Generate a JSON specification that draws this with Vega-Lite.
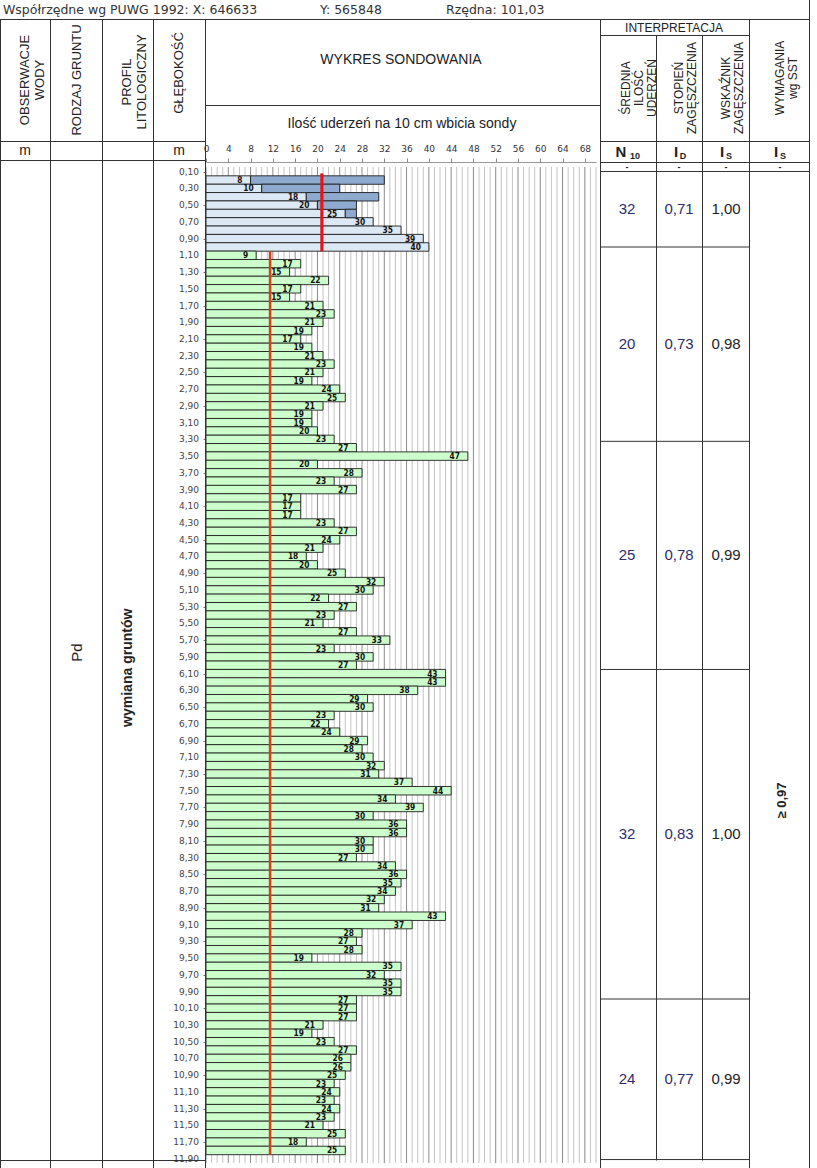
{
  "$schema": "https://vega.github.io/schema/vega-lite/v6.json",
  "width": 817,
  "height": 1168,
  "autosize": "none",
  "padding": 0,
  "background": "white",
  "config": {
    "view": {"stroke": null},
    "text": {"font": "Liberation Sans"},
    "axis": {"labelOverlap": false},
    "locale": {"number": {"decimal": ",", "thousands": " ", "grouping": [3], "currency": ["", " zł"]}}
  },
  "resolve": {"scale": {"x": "independent", "y": "independent"}},
  "datasets": {
    "grid": [{"g":0},{"g":1},{"g":2},{"g":3},{"g":4},{"g":5},{"g":6},{"g":7},{"g":8},{"g":9},{"g":10},{"g":11},{"g":12},{"g":13},{"g":14},{"g":15},{"g":16},{"g":17},{"g":18},{"g":19},{"g":20},{"g":21},{"g":22},{"g":23},{"g":24},{"g":25},{"g":26},{"g":27},{"g":28},{"g":29},{"g":30},{"g":31},{"g":32},{"g":33},{"g":34},{"g":35},{"g":36},{"g":37},{"g":38},{"g":39},{"g":40},{"g":41},{"g":42},{"g":43},{"g":44},{"g":45},{"g":46},{"g":47},{"g":48},{"g":49},{"g":50},{"g":51},{"g":52},{"g":53},{"g":54},{"g":55},{"g":56},{"g":57},{"g":58},{"g":59},{"g":60},{"g":61},{"g":62},{"g":63},{"g":64},{"g":65},{"g":66},{"g":67},{"g":68},{"g":69},{"g":70}],
    "depths": [{"d":0.1},{"d":0.3},{"d":0.5},{"d":0.7},{"d":0.9},{"d":1.1},{"d":1.3},{"d":1.5},{"d":1.7},{"d":1.9},{"d":2.1},{"d":2.3},{"d":2.5},{"d":2.7},{"d":2.9},{"d":3.1},{"d":3.3},{"d":3.5},{"d":3.7},{"d":3.9},{"d":4.1},{"d":4.3},{"d":4.5},{"d":4.7},{"d":4.9},{"d":5.1},{"d":5.3},{"d":5.5},{"d":5.7},{"d":5.9},{"d":6.1},{"d":6.3},{"d":6.5},{"d":6.7},{"d":6.9},{"d":7.1},{"d":7.3},{"d":7.5},{"d":7.7},{"d":7.9},{"d":8.1},{"d":8.3},{"d":8.5},{"d":8.7},{"d":8.9},{"d":9.1},{"d":9.3},{"d":9.5},{"d":9.7},{"d":9.9},{"d":10.1},{"d":10.3},{"d":10.5},{"d":10.7},{"d":10.9},{"d":11.1},{"d":11.3},{"d":11.5},{"d":11.7},{"d":11.9}],
    "bars": [
      {"d":0.2,"n":8,"c":32,"zone":"upper"},{"d":0.3,"n":10,"c":24,"zone":"upper"},{"d":0.4,"n":18,"c":31,"zone":"upper"},{"d":0.5,"n":20,"c":27,"zone":"upper"},{"d":0.6,"n":25,"c":27,"zone":"upper"},{"d":0.7,"n":30,"zone":"upper"},{"d":0.8,"n":35,"zone":"upper"},{"d":0.9,"n":39,"zone":"upper"},{"d":1.0,"n":40,"zone":"upper"},
      {"d":1.1,"n":9,"zone":"lower"},{"d":1.2,"n":17,"zone":"lower"},{"d":1.3,"n":15,"zone":"lower"},{"d":1.4,"n":22,"zone":"lower"},{"d":1.5,"n":17,"zone":"lower"},{"d":1.6,"n":15,"zone":"lower"},{"d":1.7,"n":21,"zone":"lower"},{"d":1.8,"n":23,"zone":"lower"},{"d":1.9,"n":21,"zone":"lower"},{"d":2.0,"n":19,"zone":"lower"},
      {"d":2.1,"n":17,"zone":"lower"},{"d":2.2,"n":19,"zone":"lower"},{"d":2.3,"n":21,"zone":"lower"},{"d":2.4,"n":23,"zone":"lower"},{"d":2.5,"n":21,"zone":"lower"},{"d":2.6,"n":19,"zone":"lower"},{"d":2.7,"n":24,"zone":"lower"},{"d":2.8,"n":25,"zone":"lower"},{"d":2.9,"n":21,"zone":"lower"},{"d":3.0,"n":19,"zone":"lower"},
      {"d":3.1,"n":19,"zone":"lower"},{"d":3.2,"n":20,"zone":"lower"},{"d":3.3,"n":23,"zone":"lower"},{"d":3.4,"n":27,"zone":"lower"},{"d":3.5,"n":47,"zone":"lower"},{"d":3.6,"n":20,"zone":"lower"},{"d":3.7,"n":28,"zone":"lower"},{"d":3.8,"n":23,"zone":"lower"},{"d":3.9,"n":27,"zone":"lower"},{"d":4.0,"n":17,"zone":"lower"},
      {"d":4.1,"n":17,"zone":"lower"},{"d":4.2,"n":17,"zone":"lower"},{"d":4.3,"n":23,"zone":"lower"},{"d":4.4,"n":27,"zone":"lower"},{"d":4.5,"n":24,"zone":"lower"},{"d":4.6,"n":21,"zone":"lower"},{"d":4.7,"n":18,"zone":"lower"},{"d":4.8,"n":20,"zone":"lower"},{"d":4.9,"n":25,"zone":"lower"},{"d":5.0,"n":32,"zone":"lower"},
      {"d":5.1,"n":30,"zone":"lower"},{"d":5.2,"n":22,"zone":"lower"},{"d":5.3,"n":27,"zone":"lower"},{"d":5.4,"n":23,"zone":"lower"},{"d":5.5,"n":21,"zone":"lower"},{"d":5.6,"n":27,"zone":"lower"},{"d":5.7,"n":33,"zone":"lower"},{"d":5.8,"n":23,"zone":"lower"},{"d":5.9,"n":30,"zone":"lower"},{"d":6.0,"n":27,"zone":"lower"},
      {"d":6.1,"n":43,"zone":"lower"},{"d":6.2,"n":43,"zone":"lower"},{"d":6.3,"n":38,"zone":"lower"},{"d":6.4,"n":29,"zone":"lower"},{"d":6.5,"n":30,"zone":"lower"},{"d":6.6,"n":23,"zone":"lower"},{"d":6.7,"n":22,"zone":"lower"},{"d":6.8,"n":24,"zone":"lower"},{"d":6.9,"n":29,"zone":"lower"},{"d":7.0,"n":28,"zone":"lower"},
      {"d":7.1,"n":30,"zone":"lower"},{"d":7.2,"n":32,"zone":"lower"},{"d":7.3,"n":31,"zone":"lower"},{"d":7.4,"n":37,"zone":"lower"},{"d":7.5,"n":44,"zone":"lower"},{"d":7.6,"n":34,"zone":"lower"},{"d":7.7,"n":39,"zone":"lower"},{"d":7.8,"n":30,"zone":"lower"},{"d":7.9,"n":36,"zone":"lower"},{"d":8.0,"n":36,"zone":"lower"},
      {"d":8.1,"n":30,"zone":"lower"},{"d":8.2,"n":30,"zone":"lower"},{"d":8.3,"n":27,"zone":"lower"},{"d":8.4,"n":34,"zone":"lower"},{"d":8.5,"n":36,"zone":"lower"},{"d":8.6,"n":35,"zone":"lower"},{"d":8.7,"n":34,"zone":"lower"},{"d":8.8,"n":32,"zone":"lower"},{"d":8.9,"n":31,"zone":"lower"},{"d":9.0,"n":43,"zone":"lower"},
      {"d":9.1,"n":37,"zone":"lower"},{"d":9.2,"n":28,"zone":"lower"},{"d":9.3,"n":27,"zone":"lower"},{"d":9.4,"n":28,"zone":"lower"},{"d":9.5,"n":19,"zone":"lower"},{"d":9.6,"n":35,"zone":"lower"},{"d":9.7,"n":32,"zone":"lower"},{"d":9.8,"n":35,"zone":"lower"},{"d":9.9,"n":35,"zone":"lower"},{"d":10.0,"n":27,"zone":"lower"},
      {"d":10.1,"n":27,"zone":"lower"},{"d":10.2,"n":27,"zone":"lower"},{"d":10.3,"n":21,"zone":"lower"},{"d":10.4,"n":19,"zone":"lower"},{"d":10.5,"n":23,"zone":"lower"},{"d":10.6,"n":27,"zone":"lower"},{"d":10.7,"n":26,"zone":"lower"},{"d":10.8,"n":26,"zone":"lower"},{"d":10.9,"n":25,"zone":"lower"},{"d":11.0,"n":23,"zone":"lower"},
      {"d":11.1,"n":24,"zone":"lower"},{"d":11.2,"n":23,"zone":"lower"},{"d":11.3,"n":24,"zone":"lower"},{"d":11.4,"n":23,"zone":"lower"},{"d":11.5,"n":21,"zone":"lower"},{"d":11.6,"n":25,"zone":"lower"},{"d":11.7,"n":18,"zone":"lower"},{"d":11.8,"n":25,"zone":"lower"}
    ],
    "layers": [
      {"from":0.15,"to":1.05,"mid":0.6,"n10":"32","id":"0,71","is":"1,00"},
      {"from":1.05,"to":3.35,"mid":2.2,"n10":"20","id":"0,73","is":"0,98"},
      {"from":3.35,"to":6.05,"mid":4.7,"n10":"25","id":"0,78","is":"0,99"},
      {"from":6.05,"to":9.95,"mid":8.0,"n10":"32","id":"0,83","is":"1,00"},
      {"from":9.95,"to":11.85,"mid":10.9,"n10":"24","id":"0,77","is":"0,99"}
    ],
    "frame": [
      {"x1":0,"x2":809,"y1":19.5,"y2":19.5},
      {"x1":600,"x2":749,"y1":35.5,"y2":35.5},
      {"x1":205,"x2":600,"y1":105.5,"y2":105.5},
      {"x1":0,"x2":205,"y1":141.5,"y2":141.5},
      {"x1":600,"x2":809,"y1":141.5,"y2":141.5},
      {"x1":0,"x2":205,"y1":160.5,"y2":160.5},
      {"x1":600,"x2":809,"y1":162.5,"y2":162.5},
      {"x1":600,"x2":809,"y1":171.5,"y2":171.5},
      {"x1":0,"x2":205,"y1":1160.5,"y2":1160.5},
      {"x1":0.5,"x2":0.5,"y1":19.5,"y2":1168},
      {"x1":50.5,"x2":50.5,"y1":19.5,"y2":1168},
      {"x1":102.5,"x2":102.5,"y1":19.5,"y2":1168},
      {"x1":153.5,"x2":153.5,"y1":19.5,"y2":1168},
      {"x1":205.5,"x2":205.5,"y1":19.5,"y2":1168},
      {"x1":600.5,"x2":600.5,"y1":19.5,"y2":1168},
      {"x1":656.5,"x2":656.5,"y1":35.5,"y2":1160.5},
      {"x1":702.5,"x2":702.5,"y1":35.5,"y2":1160.5},
      {"x1":749.5,"x2":749.5,"y1":19.5,"y2":1168},
      {"x1":809.5,"x2":809.5,"y1":0,"y2":1168}
    ],
    "vheadsL": [
      {"t":"OBSERWACJE\nWODY","x":25,"y":80},
      {"t":"RODZAJ GRUNTU","x":77,"y":80},
      {"t":"PROFIL\nLITOLOGICZNY","x":127,"y":82},
      {"t":"GŁĘBOKOŚĆ","x":179,"y":73}
    ],
    "vheadsR": [
      {"t":"ŚREDNIA\nILOŚĆ\nUDERZEŃ","x":626,"y":88},
      {"t":"STOPIEŃ\nZAGĘSZCZENIA","x":679,"y":88},
      {"t":"WSKAŹNIK\nZAGĘSZCZENIA","x":726,"y":88},
      {"t":"WYMAGANIA\nwg   SST","x":780,"y":78}
    ]
  },
  "layer": [
    {
      "layer": [
        {
          "data": {"name": "grid"},
          "mark": {"type": "rule", "strokeWidth": 1},
          "encoding": {
            "x": {"field": "g", "type": "quantitative",
                  "scale": {"domain": [0, 70], "range": [206, 596], "nice": false, "zero": false},
                  "axis": {"orient": "top", "offset": -162, "values": [0,4,8,12,16,20,24,28,32,36,40,44,48,52,56,60,64,68],
                           "title": null, "grid": false, "labelFont": "DejaVu Sans", "labelFontSize": 9, "labelColor": "#333",
                           "tickSize": 4, "tickColor": "#888", "domainColor": "#999", "labelPadding": 5, "labelFlush": false, "labelOverlap": false}},
            "y": {"datum": 0.044, "type": "quantitative",
                  "scale": {"domain": [0.044, 11.95], "range": [162, 1168], "nice": false, "zero": false},
                  "axis": {"orient": "left", "offset": -206,
                           "values": [0.1,0.3,0.5,0.7,0.9,1.1,1.3,1.5,1.7,1.9,2.1,2.3,2.5,2.7,2.9,3.1,3.3,3.5,3.7,3.9,4.1,4.3,4.5,4.7,4.9,5.1,5.3,5.5,5.7,5.9,6.1,6.3,6.5,6.7,6.9,7.1,7.3,7.5,7.7,7.9,8.1,8.3,8.5,8.7,8.9,9.1,9.3,9.5,9.7,9.9,10.1,10.3,10.5,10.7,10.9,11.1,11.3,11.5,11.7,11.9],
                           "labels": false, "title": null, "grid": false, "domain": false,
                           "tickSize": 3, "tickColor": "#777"}},
            "y2": {"datum": 11.95},
            "color": {"condition": {"test": "datum.g % 4 === 0", "value": "#8a8a8a"}, "value": "#c4c4c4"}
          }
        },
        {
          "data": {"name": "depths"},
          "mark": {"type": "text", "font": "DejaVu Sans", "fontSize": 9, "align": "right", "baseline": "middle", "dx": -7, "color": "#444"},
          "encoding": {
            "x": {"datum": 0, "type": "quantitative"},
            "y": {"field": "d", "type": "quantitative"},
            "text": {"field": "d", "type": "quantitative", "format": ".2f"}
          }
        },
        {
          "data": {"name": "bars"},
          "mark": {"type": "bar", "orient": "horizontal", "size": 8.45, "stroke": "#1e1e1e", "strokeWidth": 0.9},
          "encoding": {
            "x": {"field": "n", "type": "quantitative"},
            "y": {"field": "d", "type": "quantitative"},
            "fill": {"field": "zone", "type": "nominal", "scale": {"domain": ["upper", "lower"], "range": ["#dde8f5", "#ccffcc"]}, "legend": null}
          }
        },
        {
          "data": {"name": "bars"},
          "transform": [{"filter": "isValid(datum.c)"}],
          "mark": {"type": "bar", "orient": "horizontal", "size": 8.45, "fill": "#8eaacf", "stroke": "#1e1e1e", "strokeWidth": 0.9},
          "encoding": {
            "x": {"field": "n", "type": "quantitative"},
            "x2": {"field": "c"},
            "y": {"field": "d", "type": "quantitative"}
          }
        },
        {
          "data": {"values": [{"v": 20.8, "from": 0.12, "to": 1.05}]},
          "mark": {"type": "rule", "color": "#e3161b", "strokeWidth": 3.2},
          "encoding": {
            "x": {"field": "v", "type": "quantitative"},
            "y": {"field": "from", "type": "quantitative"},
            "y2": {"field": "to"}
          }
        },
        {
          "data": {"values": [{"v": 11.5, "from": 1.05, "to": 11.85}]},
          "mark": {"type": "rule", "color": "#d8401c", "strokeWidth": 2.6},
          "encoding": {
            "x": {"field": "v", "type": "quantitative"},
            "y": {"field": "from", "type": "quantitative"},
            "y2": {"field": "to"}
          }
        },
        {
          "data": {"name": "bars"},
          "mark": {"type": "text", "font": "DejaVu Sans Condensed", "fontWeight": "bold", "fontSize": 8.3, "align": "right", "baseline": "middle", "dx": -8, "dy": 1, "color": "#111"},
          "encoding": {
            "x": {"field": "n", "type": "quantitative"},
            "y": {"field": "d", "type": "quantitative"},
            "text": {"field": "n", "type": "quantitative"}
          }
        }
      ]
    },
    {
      "layer": [
        {
          "data": {"values": [{"b": 1.05}, {"b": 3.35}, {"b": 6.05}, {"b": 9.95}, {"b": 11.85}]},
          "mark": {"type": "rule", "color": "#333", "strokeWidth": 1},
          "encoding": {
            "x": {"datum": 600, "type": "quantitative", "scale": {"domain": [0, 817], "range": [0, 817], "nice": false, "zero": false}, "axis": null},
            "x2": {"datum": 749},
            "y": {"field": "b", "type": "quantitative", "scale": {"domain": [0.044, 11.95], "range": [162, 1168], "nice": false, "zero": false}, "axis": null}
          }
        },
        {
          "data": {"name": "layers"},
          "mark": {"type": "text", "fontSize": 15, "color": "#2d2d6e", "align": "center", "baseline": "middle"},
          "encoding": {"x": {"datum": 627, "type": "quantitative"}, "y": {"field": "mid", "type": "quantitative"}, "text": {"field": "n10"}}
        },
        {
          "data": {"name": "layers"},
          "mark": {"type": "text", "fontSize": 15, "color": "#2d2d6e", "align": "center", "baseline": "middle"},
          "encoding": {"x": {"datum": 679, "type": "quantitative"}, "y": {"field": "mid", "type": "quantitative"}, "text": {"field": "id"}}
        },
        {
          "data": {"name": "layers"},
          "mark": {"type": "text", "fontSize": 15, "color": "#222", "align": "center", "baseline": "middle"},
          "encoding": {"x": {"datum": 726, "type": "quantitative"}, "y": {"field": "mid", "type": "quantitative"}, "text": {"field": "is"}}
        },
        {
          "data": {"values": [{"t": "Pd", "d": 5.85}]},
          "mark": {"type": "text", "fontSize": 15, "angle": 270, "color": "#222", "align": "center", "baseline": "middle"},
          "encoding": {"x": {"datum": 77, "type": "quantitative"}, "y": {"field": "d", "type": "quantitative"}, "text": {"field": "t"}}
        },
        {
          "data": {"values": [{"t": "wymiana gruntów", "d": 6.03}]},
          "mark": {"type": "text", "fontSize": 14, "fontWeight": "bold", "angle": 270, "color": "#222", "align": "center", "baseline": "middle"},
          "encoding": {"x": {"datum": 128, "type": "quantitative"}, "y": {"field": "d", "type": "quantitative"}, "text": {"field": "t"}}
        },
        {
          "data": {"values": [{"t": "≥ 0,97", "d": 7.6}]},
          "mark": {"type": "text", "fontSize": 13, "fontWeight": "bold", "angle": 270, "color": "#222", "align": "center", "baseline": "middle"},
          "encoding": {"x": {"datum": 782, "type": "quantitative"}, "y": {"field": "d", "type": "quantitative"}, "text": {"field": "t"}}
        }
      ]
    },
    {
      "layer": [
        {
          "data": {"name": "frame"},
          "mark": {"type": "rule", "color": "#333", "strokeWidth": 1},
          "encoding": {
            "x": {"field": "x1", "type": "quantitative", "scale": {"domain": [0, 817], "range": [0, 817], "nice": false, "zero": false}, "axis": null},
            "x2": {"field": "x2"},
            "y": {"field": "y1", "type": "quantitative", "scale": {"domain": [0, 1168], "range": [0, 1168], "nice": false, "zero": false}, "axis": null},
            "y2": {"field": "y2"}
          }
        },
        {
          "data": {"name": "vheadsL"},
          "mark": {"type": "text", "fontSize": 13, "angle": 270, "align": "center", "baseline": "middle", "lineBreak": "\n", "lineHeight": 15, "color": "#222"},
          "encoding": {"x": {"field": "x", "type": "quantitative"}, "y": {"field": "y", "type": "quantitative"}, "text": {"field": "t"}}
        },
        {
          "data": {"name": "vheadsR"},
          "mark": {"type": "text", "fontSize": 12, "angle": 270, "align": "center", "baseline": "middle", "lineBreak": "\n", "lineHeight": 13, "color": "#222"},
          "encoding": {"x": {"field": "x", "type": "quantitative"}, "y": {"field": "y", "type": "quantitative"}, "text": {"field": "t"}}
        },
        {
          "data": {"values": [
            {"t": "WYKRES   SONDOWANIA", "x": 401, "y": 60},
            {"t": "Ilość   uderzeń   na   10 cm   wbicia   sondy", "x": 402, "y": 124}
          ]},
          "mark": {"type": "text", "fontSize": 14, "align": "center", "baseline": "middle", "color": "#222"},
          "encoding": {"x": {"field": "x", "type": "quantitative"}, "y": {"field": "y", "type": "quantitative"}, "text": {"field": "t"}}
        },
        {
          "data": {"values": [{"t": "INTERPRETACJA", "x": 674, "y": 28}]},
          "mark": {"type": "text", "fontSize": 12, "align": "center", "baseline": "middle", "color": "#222"},
          "encoding": {"x": {"field": "x", "type": "quantitative"}, "y": {"field": "y", "type": "quantitative"}, "text": {"field": "t"}}
        },
        {
          "data": {"values": [{"t": "m", "x": 25, "y": 151}, {"t": "m", "x": 179, "y": 151}]},
          "mark": {"type": "text", "fontSize": 14, "align": "center", "baseline": "middle", "color": "#222"},
          "encoding": {"x": {"field": "x", "type": "quantitative"}, "y": {"field": "y", "type": "quantitative"}, "text": {"field": "t"}}
        },
        {
          "data": {"values": [{"t": "N", "x": 621, "y": 152}, {"t": "I", "x": 676, "y": 152}, {"t": "I", "x": 722, "y": 152}, {"t": "I", "x": 776, "y": 152}]},
          "mark": {"type": "text", "fontSize": 15, "fontWeight": "bold", "align": "center", "baseline": "middle", "color": "#222"},
          "encoding": {"x": {"field": "x", "type": "quantitative"}, "y": {"field": "y", "type": "quantitative"}, "text": {"field": "t"}}
        },
        {
          "data": {"values": [{"t": "10", "x": 635, "y": 156}, {"t": "D", "x": 683, "y": 156}, {"t": "S", "x": 729, "y": 156}, {"t": "S", "x": 783, "y": 156}]},
          "mark": {"type": "text", "fontSize": 9, "fontWeight": "bold", "align": "center", "baseline": "middle", "color": "#222"},
          "encoding": {"x": {"field": "x", "type": "quantitative"}, "y": {"field": "y", "type": "quantitative"}, "text": {"field": "t"}}
        },
        {
          "data": {"values": [{"t": "-", "x": 627, "y": 167}, {"t": "-", "x": 679, "y": 167}, {"t": "-", "x": 726, "y": 167}, {"t": "-", "x": 780, "y": 167}]},
          "mark": {"type": "text", "fontSize": 9, "fontWeight": "bold", "align": "center", "baseline": "middle", "color": "#222"},
          "encoding": {"x": {"field": "x", "type": "quantitative"}, "y": {"field": "y", "type": "quantitative"}, "text": {"field": "t"}}
        },
        {
          "data": {"values": [
            {"t": "Współrzędne wg PUWG 1992: X: 646633", "x": 3, "y": 10},
            {"t": "Y: 565848", "x": 320, "y": 10},
            {"t": "Rzędna: 101,03", "x": 446, "y": 10}
          ]},
          "mark": {"type": "text", "font": "DejaVu Sans", "fontSize": 12.5, "align": "left", "baseline": "middle", "color": "#333"},
          "encoding": {"x": {"field": "x", "type": "quantitative"}, "y": {"field": "y", "type": "quantitative"}, "text": {"field": "t"}}
        }
      ]
    }
  ]
}
